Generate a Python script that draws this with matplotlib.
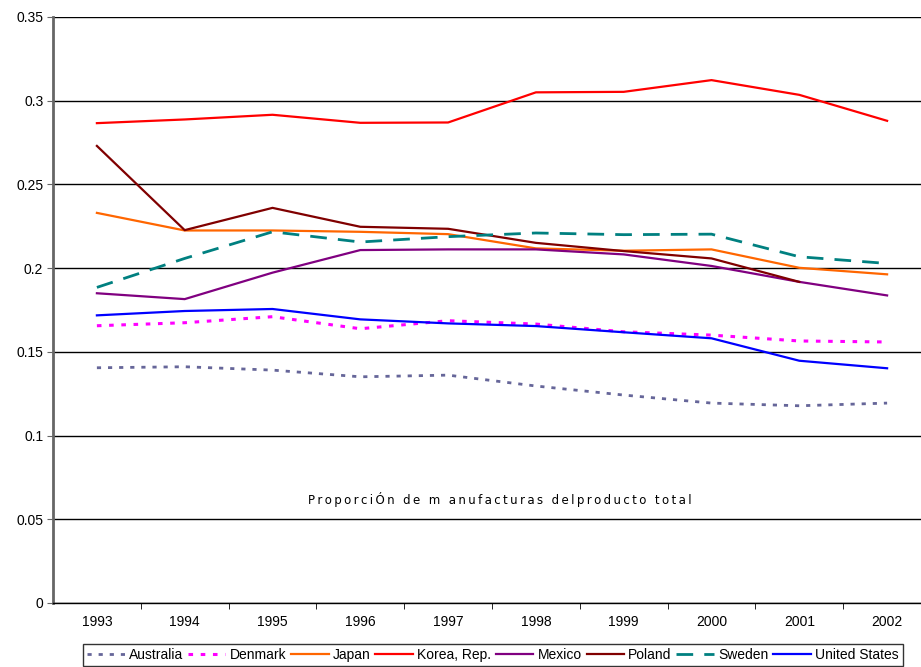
import numpy as np
import matplotlib.pyplot as plt
from matplotlib.ticker import FuncFormatter, MultipleLocator

plt.rcParams['font.family'] = ['Liberation Sans', 'DejaVu Sans']

# datos
years = ['1993', '1994', '1995', '1996', '1997', '1998', '1999', '2000', '2001', '2002']
australia = [0.1405, 0.1411, 0.1391, 0.1351, 0.1361, 0.1296, 0.1242, 0.1194, 0.1178, 0.1194]
denmark = [0.1656, 0.1674, 0.1710, 0.1638, 0.1686, 0.1666, 0.1620, 0.1600, 0.1565, 0.1559]
japan = [0.2330, 0.2225, 0.2225, 0.2217, 0.2203, 0.2118, 0.2104, 0.2112, 0.2002, 0.1963]
korea = [0.2866, 0.2888, 0.2916, 0.2868, 0.2870, 0.3050, 0.3053, 0.3123, 0.3035, 0.2880]
mexico = [0.1850, 0.1815, 0.1973, 0.2108, 0.2112, 0.2112, 0.2082, 0.2013, 0.1918, 0.1837]
poland = [0.2730, 0.2227, 0.2360, 0.2247, 0.2235, 0.2151, 0.2102, 0.2058, 0.1918, np.nan]
sweden = [0.1885, 0.2058, 0.2217, 0.2156, 0.2188, 0.2210, 0.2200, 0.2203, 0.2068, 0.2028]
usa = [0.1718, 0.1744, 0.1756, 0.1694, 0.1670, 0.1654, 0.1617, 0.1581, 0.1447, 0.1402]

# texto central (tal como aparece, letras espaciadas)
words = ['ProporciÓn', 'de', 'm', 'anufacturas', 'delproducto', 'total']
note = '\u2009 \u2009'.join('\u2009'.join(w) for w in words)

x = np.arange(len(years))

fig = plt.figure(figsize=(9.21, 6.67), dpi=100)
ax = fig.add_axes([53/921, 64/667, 878/921, 586/667])

ax.plot(x, australia, color='#666699', lw=2, ls=(0, (1.5, 2.5)), label='Australia')
ax.plot(x, denmark, color='#FF00FF', lw=2.2, ls=(0, (1.5, 2.5)), label='Denmark')
ax.plot(x, japan, color='#FF6600', lw=1.6, label='Japan')
ax.plot(x, korea, color='#FF0000', lw=1.6, label='Korea, Rep.')
ax.plot(x, mexico, color='#800080', lw=1.6, label='Mexico')
ax.plot(x, poland, color='#800000', lw=1.6, label='Poland')
ax.plot(x, sweden, color='#008080', lw=2, ls=(0, (6, 4)), label='Sweden')
ax.plot(x, usa, color='#0000FF', lw=1.6, label='United States')

ax.set_xlim(-0.5, 9.5)
ax.set_ylim(0, 0.35)
ax.yaxis.set_major_locator(MultipleLocator(0.05))
ax.yaxis.set_major_formatter(FuncFormatter(lambda v, p: f'{round(v, 2):g}'))
ax.set_xticks(x)
ax.set_xticklabels(years)
ax.set_xticks(x[:-1] + 0.5, minor=True)
ax.tick_params(axis='x', which='major', length=0, pad=9, labelsize=10)
ax.tick_params(axis='x', which='minor', length=4, direction='out', color='black')
ax.tick_params(axis='y', length=4, direction='out', color='#666666', labelsize=10, pad=3)

ax.grid(axis='y', color='black', lw=1)
ax.set_axisbelow(True)
for s in ['top', 'right']:
    ax.spines[s].set_visible(False)
ax.spines['left'].set_color('#666666')
ax.spines['left'].set_linewidth(2)
ax.spines['bottom'].set_color('black')
ax.spines['bottom'].set_linewidth(1)

ax.text(4.59, 0.062, note, ha='center', va='center', fontsize=8.5,
        family=['DejaVu Sans'])

leg = fig.legend(loc='upper left', bbox_to_anchor=(83/921, 1 - 644/667), ncol=8,
                 fontsize=10, frameon=True, fancybox=False, edgecolor='black',
                 handlelength=2.7, handletextpad=0.3, columnspacing=0.35,
                 borderpad=0.3, borderaxespad=0)
leg.get_frame().set_linewidth(1)

fig.savefig('out.png', dpi=100)
